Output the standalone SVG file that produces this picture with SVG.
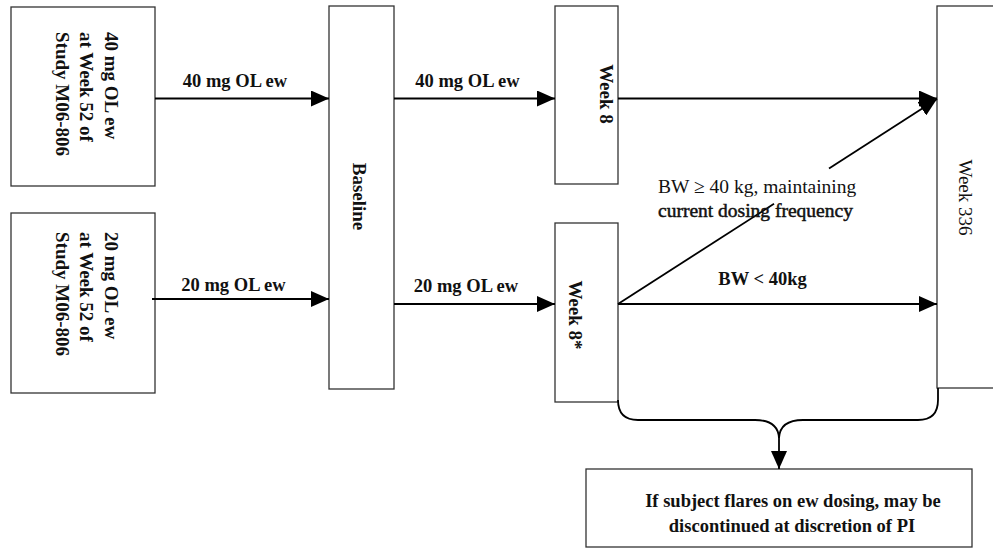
<svg xmlns="http://www.w3.org/2000/svg" width="993" height="548" viewBox="0 0 993 548">
<defs>
<marker id="ah" viewBox="0 0 18 16" refX="18" refY="8" markerWidth="18" markerHeight="16" markerUnits="userSpaceOnUse" orient="auto"><path d="M0,0 L18,8 L0,16 z" fill="#000"/></marker>
<style>
.box{fill:#fff;stroke:#333;stroke-width:1.3}
.ln{fill:none;stroke:#000;stroke-width:1.8}
.arr{marker-end:url(#ah)}
.t{font-family:"Liberation Serif","Times New Roman",serif;font-size:18.5px;fill:#111}
.r{font-size:19px}
.b{font-weight:bold}
.dk{stroke:#111;stroke-width:0.5}
</style>
</defs>
<rect width="993" height="548" fill="#fff"/>
<g id="node-40mg">
<rect class="box" x="11" y="7" width="144" height="179"/>
<text class="t r b" transform="rotate(90)"><tspan x="32" y="-105">40 mg OL ew</tspan><tspan x="32" y="-80">at Week 52 of</tspan><tspan x="32" y="-56">Study M06-806</tspan></text>
</g>
<g id="node-20mg">
<rect class="box" x="11" y="213" width="144" height="180"/>
<text class="t r b" transform="rotate(90)"><tspan x="232" y="-105">20 mg OL ew</tspan><tspan x="232" y="-80">at Week 52 of</tspan><tspan x="232" y="-56">Study M06-806</tspan></text>
</g>
<g id="node-baseline">
<rect class="box" x="329" y="6" width="65" height="383"/>
<text class="t r b" transform="rotate(90)" x="196.5" y="-353" text-anchor="middle">Baseline</text>
</g>
<g id="node-week8">
<rect class="box" x="555" y="6" width="63" height="178"/>
<text class="t r b" transform="rotate(90)" x="94" y="-600" text-anchor="middle">Week 8</text>
</g>
<g id="node-week8star">
<rect class="box" x="555" y="223" width="63" height="179"/>
<text class="t r b" transform="rotate(90)" x="315" y="-569" text-anchor="middle">Week 8*</text>
</g>
<g id="node-week336">
<rect class="box" x="937" y="6" width="80" height="382"/>
<text class="t r" transform="rotate(90)" x="197.5" y="-959" text-anchor="middle">Week 336</text>
</g>
<g id="node-flare">
<rect class="box" x="586" y="469" width="386" height="78"/>
<text class="t b" text-anchor="middle"><tspan x="793" y="507">If subject flares on ew dosing, may be</tspan><tspan x="792" y="532">discontinued at discretion of PI</tspan></text>
</g>
<g id="connectors">
<line class="ln arr" x1="155" y1="98.5" x2="329" y2="98.5"/>
<line class="ln arr" x1="152" y1="299" x2="329" y2="299"/>
<line class="ln arr" x1="394" y1="98.5" x2="555" y2="98.5"/>
<line class="ln arr" x1="394" y1="304" x2="555" y2="304"/>
<line class="ln arr" x1="618" y1="98.5" x2="937" y2="98.5"/>
<line class="ln arr" x1="618" y1="304" x2="937" y2="304"/>
<line class="ln" x1="618" y1="304" x2="774" y2="203.8"/>
<line class="ln arr" x1="829" y1="168.5" x2="937" y2="99"/>
<path class="ln" d="M618,400 Q618,420 638,420 H755 Q778,420 779,438 Q780,420 803,420 H918 Q938,420 938,400 V388"/>
<line class="ln arr" x1="779" y1="437" x2="779" y2="469"/>
<text class="t b" x="235" y="87" text-anchor="middle">40 mg OL ew</text>
<text class="t b" x="233.5" y="291" text-anchor="middle">20 mg OL ew</text>
<text class="t b" x="467.5" y="87" text-anchor="middle">40 mg OL ew</text>
<text class="t b" x="466" y="292" text-anchor="middle">20 mg OL ew</text>
<text class="t b" x="762.5" y="285" text-anchor="middle">BW &lt; 40kg</text>
<text class="t" style="font-size:19.5px"><tspan x="658" y="193">BW ≥ 40 kg, maintaining</tspan><tspan class="dk" x="658" y="217">current dosing frequency</tspan></text>
</g>
</svg>
